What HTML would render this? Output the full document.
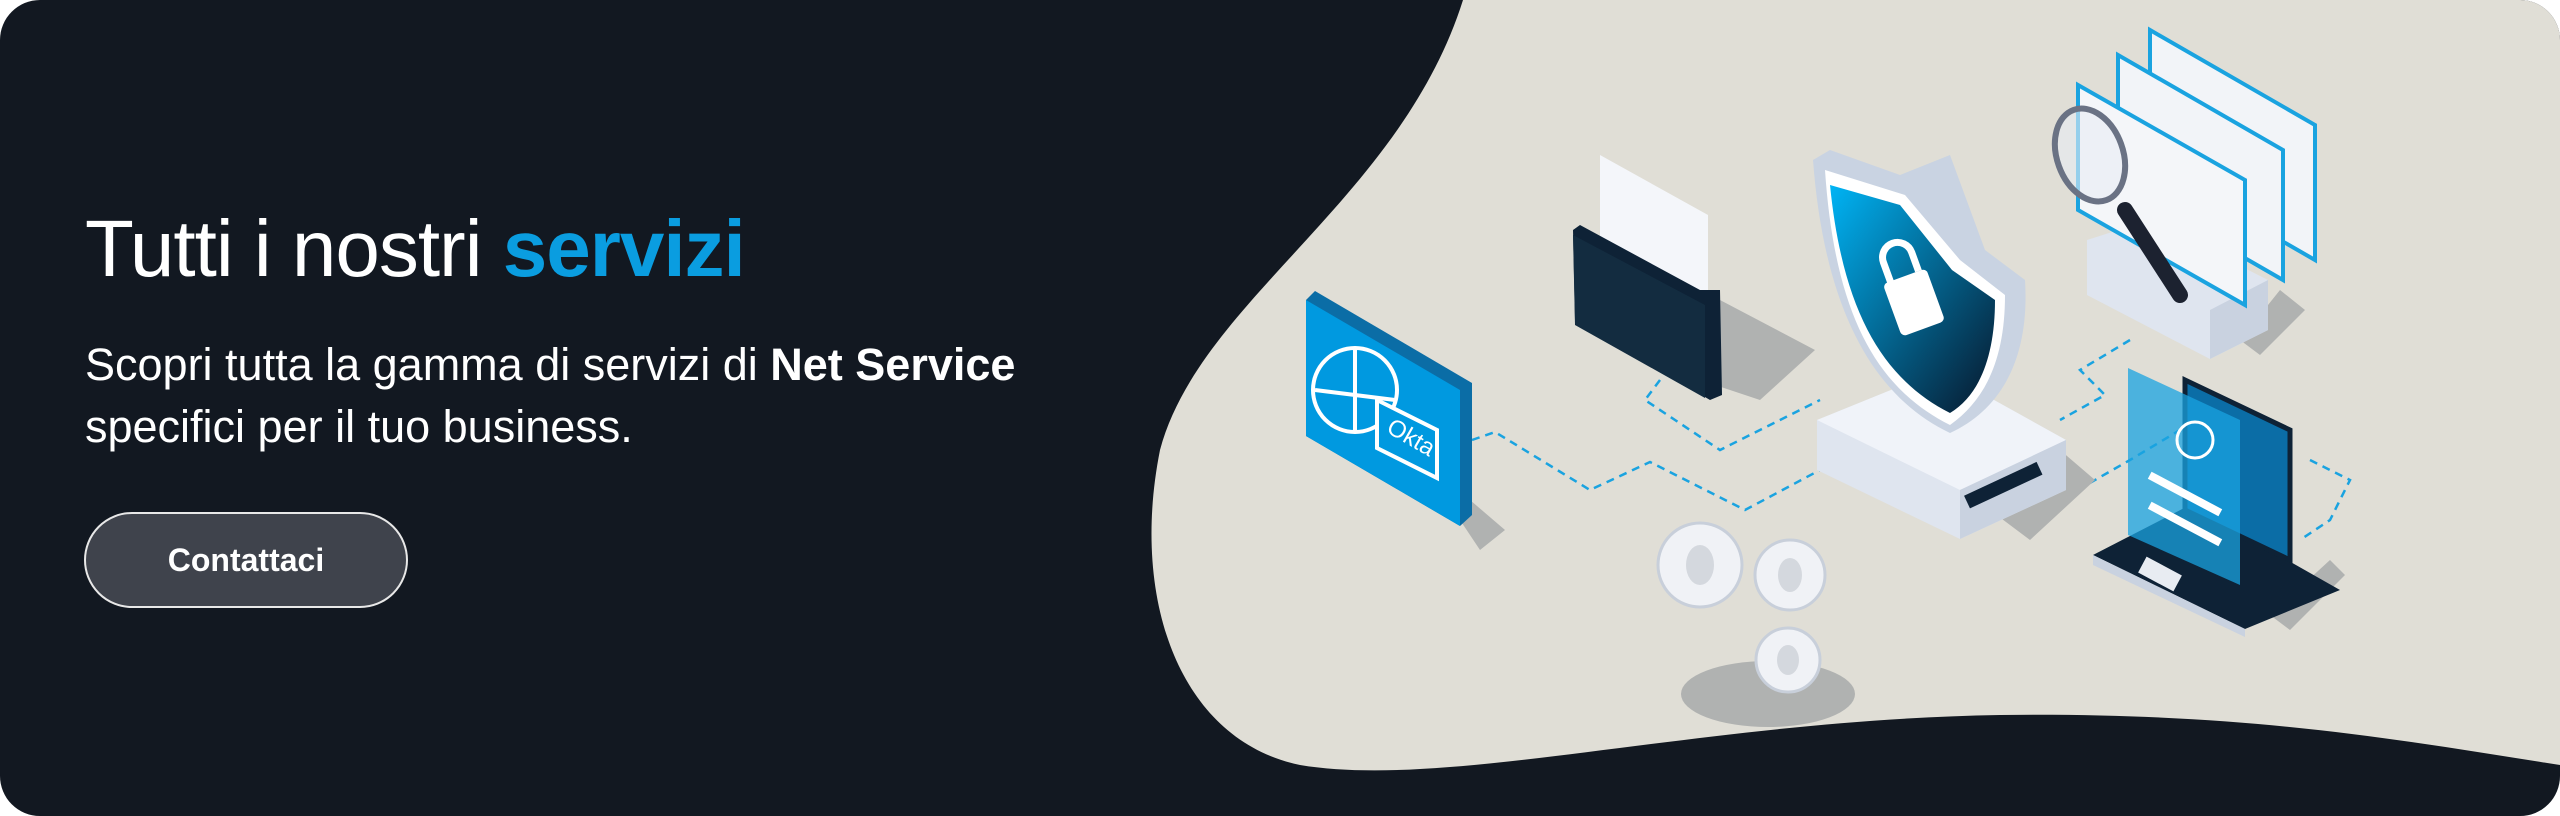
<!DOCTYPE html>
<html><head><meta charset="utf-8"><style>
html,body{margin:0;padding:0;background:#fff}
.wrap{position:relative;width:2560px;height:816px;background:#121821;border-radius:40px;overflow:hidden;font-family:"Liberation Sans",sans-serif}
svg{position:absolute;left:0;top:0}
.t{position:absolute;left:85px;top:203px;font-size:80px;color:#fff;white-space:nowrap;letter-spacing:-1px}
.t b{color:#0a9de0}
.s{position:absolute;left:85px;top:334px;font-size:45px;line-height:62px;color:#fff;white-space:nowrap}
.btn{position:absolute;left:84px;top:512px;width:320px;height:92px;border:2px solid #e8e8e8;border-radius:48px;background:#3f434c;color:#fff;font-weight:bold;font-size:32px;text-align:center;line-height:92px}
</style></head><body><div class="wrap">
<svg width="2560" height="816" viewBox="0 0 2560 816">
<path d="M1463,0 C1400,200 1200,300 1160,450 C1130,600 1180,740 1300,765 C1450,790 1700,720 2000,715 C2250,712 2400,740 2560,765 L2560,0 Z" fill="#e0ded6"/>
<g fill="none" stroke="#1aa3e0" stroke-width="2.5" stroke-dasharray="8,6">
<path d="M1472,440 L1495,432 L1590,490 L1650,462 L1745,510 L1820,470"/>
<path d="M1660,380 L1645,400 L1720,450 L1820,400"/>
<path d="M2030,480 L2060,500 L2130,460 L2180,430"/>
<path d="M2130,340 L2080,370 L2105,395 L2060,420"/>
<path d="M2310,460 L2350,480 L2330,520 L2300,540"/>
</g>
<g fill="#b0b2b1">
<polygon points="1470,500 1505,530 1480,550 1460,520"/>
<polygon points="1720,300 1815,350 1760,400 1700,380"/>
<polygon points="2060,450 2095,480 2030,540 1990,510"/>
<polygon points="2280,290 2305,310 2260,355 2240,340"/>
<polygon points="2330,560 2345,575 2290,630 2270,615"/>
<ellipse cx="1768" cy="694" rx="87" ry="33"/>
</g>
<polygon points="1306,300 1315,291 1472,383 1472,515 1460,526 1306,436" fill="#0b6da6"/>
<polygon points="1306,300 1460,390 1460,526 1306,436" fill="#0099e0"/>
<circle cx="1355" cy="390" r="42" fill="none" stroke="#fff" stroke-width="4"/>
<path d="M1315,390 L1395,400 M1355,348 L1355,432" stroke="#fff" stroke-width="4"/>
<polygon points="1377,400 1437,430 1437,478 1377,448" fill="#0099e0" stroke="#fff" stroke-width="4"/>
<text x="1383" y="440" fill="#fff" font-size="24" transform="rotate(30 1400 440)">Okta</text>
<polygon points="1600,155 1708,215 1708,370 1600,310" fill="#f4f6fa"/>
<polygon points="1573,230 1580,225 1700,290 1720,290 1722,395 1710,400 1575,320" fill="#0e2236"/>
<polygon points="1573,235 1705,305 1705,398 1575,325" fill="#132c40"/>
<polygon points="1817,420 1940,370 2066,440 2066,490 1960,539 1817,470" fill="#dfe5ef"/>
<polygon points="1817,420 1940,370 2066,440 1960,490" fill="#f0f3f9"/>
<polygon points="1960,490 2066,440 2066,490 1960,539" fill="#c9d2e0"/>
<rect x="1965" y="480" width="80" height="14" fill="#0e2236" transform="rotate(-25 2000 490)"/>
<path d="M1813,160 L1830,150 L1900,175 L1950,155 L1985,250 L2025,280 C2030,360 2000,410 1950,433 C1880,400 1825,320 1813,160 Z" fill="#c9d3e2"/>
<path d="M1825,170 L1905,195 L1960,260 L2005,295 C2005,360 1985,400 1950,425 C1880,390 1835,320 1825,170 Z" fill="#fff"/>
<defs><linearGradient id="g1" x1="0" y1="0" x2="1" y2="1"><stop offset="0" stop-color="#00b4f5"/><stop offset="1" stop-color="#07162a"/></linearGradient></defs>
<path d="M1830,185 L1900,205 L1952,270 L1995,300 C1995,355 1980,395 1950,413 C1885,380 1843,315 1830,185 Z" fill="url(#g1)"/>
<rect x="1890" y="275" width="46" height="56" rx="5" fill="#fff" transform="rotate(-20 1912 300)"/>
<path d="M1898,280 L1898,255 A15,15 0 0 1 1928,255 L1928,275" fill="none" stroke="#fff" stroke-width="7" transform="rotate(-20 1912 300)"/>
<polygon points="2087,240 2150,220 2268,280 2268,330 2210,359 2087,295" fill="#dfe5ef"/>
<polygon points="2210,310 2268,280 2268,330 2210,359" fill="#c9d2e0"/>
<polygon points="2150,30 2315,125 2315,260 2150,165" fill="#f2f4f8" stroke="#1aa3e0" stroke-width="4"/>
<polygon points="2118,55 2283,150 2283,280 2118,185" fill="#f2f4f8" stroke="#1aa3e0" stroke-width="4"/>
<polygon points="2078,85 2245,180 2245,305 2078,210" fill="#f4f6f9" stroke="#1aa3e0" stroke-width="4"/>
<ellipse cx="2090" cy="155" rx="33" ry="48" fill="#e8edf4" fill-opacity="0.6" stroke="#6a7284" stroke-width="6" transform="rotate(-20 2090 155)"/>
<line x1="2125" y1="210" x2="2180" y2="295" stroke="#1c2230" stroke-width="16" stroke-linecap="round"/>
<polygon points="2093,555 2190,505 2340,590 2245,629" fill="#0e2236"/>
<polygon points="2093,555 2245,629 2245,637 2093,565" fill="#c9d2e0"/>
<polygon points="2185,380 2290,430 2290,560 2185,510" fill="#0b6da6" stroke="#0e2236" stroke-width="5"/>
<polygon points="2128,368 2240,420 2240,585 2128,535" fill="#1aa3e0" fill-opacity="0.75"/>
<circle cx="2195" cy="440" r="18" fill="none" stroke="#fff" stroke-width="3"/>
<rect x="2145" y="490" width="80" height="8" fill="#fff" transform="rotate(28 2185 494)"/>
<rect x="2145" y="520" width="80" height="8" fill="#fff" transform="rotate(28 2185 524)"/>
<rect x="2140" y="565" width="40" height="18" fill="#e8ecf2" transform="rotate(28 2160 574)"/>
<g fill="#f0f2f6" stroke="#c8cfda" stroke-width="3">
<circle cx="1700" cy="565" r="42"/><circle cx="1790" cy="575" r="35"/><circle cx="1788" cy="660" r="32"/>
</g>
<g fill="#d4d8de"><ellipse cx="1700" cy="565" rx="14" ry="20"/><ellipse cx="1790" cy="575" rx="12" ry="17"/><ellipse cx="1788" cy="660" rx="11" ry="15"/></g>
</svg>
<div class="t">Tutti i nostri <b>servizi</b></div>
<div class="s">Scopri tutta la gamma di servizi di <b>Net Service</b><br>specifici per il tuo business.</div>
<div class="btn">Contattaci</div>
</div></body></html>
